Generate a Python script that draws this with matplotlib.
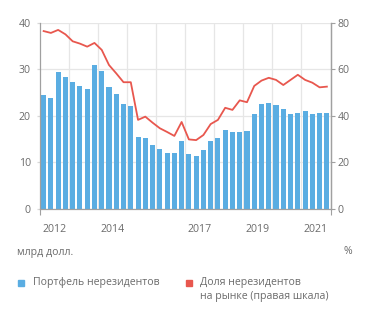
import matplotlib
matplotlib.use("Agg")
import matplotlib.pyplot as plt
from matplotlib.patches import Rectangle

plt.rcParams['font.family'] = ['Open Sans', 'DejaVu Sans']

# Quarterly data 2012Q1..2021Q4
portfolio = [24.4, 23.9, 29.4, 28.4, 27.2, 26.4, 25.7, 30.9, 29.7, 26.2,
             24.7, 22.5, 22.1, 15.4, 15.1, 13.8, 12.8, 12.0, 12.0, 14.6,
             11.8, 11.4, 12.6, 14.6, 15.2, 16.9, 16.6, 16.4, 16.7, 20.3,
             22.6, 22.8, 22.4, 21.4, 20.4, 20.5, 21.1, 20.4, 20.6, 20.5]
share = [76.4, 75.6, 76.9, 75.0, 72.0, 71.0, 69.7, 71.3, 68.3, 61.8,
         58.2, 54.4, 54.4, 38.2, 39.6, 37.0, 34.6, 33.0, 31.3, 37.3,
         29.8, 29.5, 31.7, 36.4, 38.2, 43.4, 42.5, 46.6, 45.8, 52.8,
         55.1, 56.3, 55.4, 53.2, 55.4, 57.6, 55.4, 54.2, 52.2, 52.5]
year_labels = ['2012', '2014', '2017', '2019', '2021']
label_years_idx = [0, 2, 5, 7, 9]
left_ticks = [0, 10, 20, 30, 40]
right_ticks = [0, 20, 40, 60, 80]

BLUE = '#5aade2'
RED = '#e8574e'
GRID = '#e6e6e6'
SPINE = '#a0a0a0'
TXT = '#6b6b6b'
FS = 7.6

fig = plt.figure(figsize=(3.71, 3.16), dpi=100)
ax = fig.add_axes([40/371, 1-208.7/316, 290.5/371, 186/316])
x = list(range(len(portfolio)))
ax.bar(x, portfolio, width=0.7, color=BLUE, zorder=2)
ax.set_xlim(-0.5, 39.5)
ax.set_ylim(0, 40)
ax.set_yticks(left_ticks)
ax.yaxis.grid(True, color=GRID, lw=0.9, zorder=0)
for k in range(1, 10):
    ax.axvline(-0.5 + 4*k, color=GRID, lw=0.9, zorder=0)
ax.set_xticks([-0.5, 39.5])
ax.set_xticklabels([])
ax.tick_params(axis='x', length=4, color=SPINE, width=0.8)
ax.tick_params(axis='y', length=2.2, color='#d8d8d8', width=0.9,
               labelsize=FS, labelcolor=TXT, pad=4.3)
for k, lab in zip(label_years_idx, year_labels):
    ax.text(1.5 + 4*k, -3.2, lab, ha='center', va='top', fontsize=FS, color=TXT)
for s in ['top']:
    ax.spines[s].set_visible(False)
for s in ['left', 'bottom', 'right']:
    ax.spines[s].set_color(SPINE)
    ax.spines[s].set_linewidth(0.9)

ax2 = ax.twinx()
ax2.plot(x, share, color=RED, lw=1.3, zorder=3)
ax2.set_ylim(0, 80)
ax2.set_yticks(right_ticks)
ax2.tick_params(axis='y', length=3, color=SPINE, width=0.8, labelsize=FS, labelcolor=TXT, pad=2)
ax2.spines['top'].set_visible(False)
ax2.spines['right'].set_color(SPINE)
ax2.spines['right'].set_linewidth(0.9)
ax2.spines['left'].set_visible(False)
ax2.spines['bottom'].set_visible(False)

fig.text(17/371, 1-252/316, 'млрд долл.', fontsize=FS, color=TXT, va='center', ha='left')
fig.text(352/371, 1-252/316, '%', fontsize=FS, color=TXT, va='center', ha='right')

fig.patches.append(Rectangle((18/371, 1-286/316), 6/371, 6/316, transform=fig.transFigure, color=BLUE))
fig.text(33/371, 1-283/316, 'Портфель нерезидентов', fontsize=FS, color=TXT, va='center', ha='left')
fig.patches.append(Rectangle((186/371, 1-286/316), 6/371, 6/316, transform=fig.transFigure, color=RED))
fig.text(200/371, 1-283/316, 'Доля нерезидентов', fontsize=FS, color=TXT, va='center', ha='left')
fig.text(200/371, 1-296/316, 'на рынке (правая шкала)', fontsize=FS, color=TXT, va='center', ha='left')

fig.savefig('out.png', dpi=100)
